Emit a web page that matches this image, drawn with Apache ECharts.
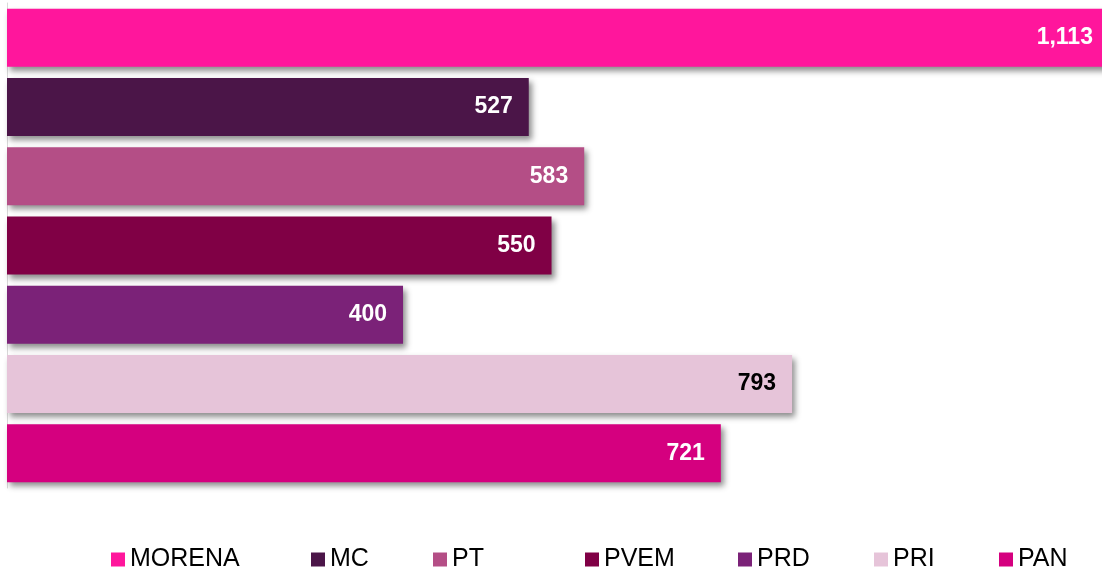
<!DOCTYPE html>
<html>
<head>
<meta charset="utf-8">
<script src="https://cdn.jsdelivr.net/npm/echarts@6/dist/echarts.min.js"></script>
<style>
html, body { margin: 0; padding: 0; background: #fff; }
#chart { width: 1102px; height: 569px; }
</style>
</head>
<body>
<div id="chart"></div>
<script>
// partidos, de arriba hacia abajo
var partidos = ['MORENA', 'MC', 'PT', 'PVEM', 'PRD', 'PRI', 'PAN'];
var valores = [1113, 527, 583, 550, 400, 793, 721];
var colores = ['#FF169C', '#4B1548', '#B44E86', '#800045', '#7B2278', '#E6C4D9', '#D5007F'];
var colorEtiqueta = ['#fff', '#fff', '#fff', '#fff', '#fff', '#000', '#fff'];
// posicion izquierda de cada elemento de la leyenda
var leyendaX = [106, 306, 428, 580, 733, 869, 994];

var dom = document.getElementById('chart');
var myChart = echarts.init(dom);

var series = [];
var legends = [];
for (var i = 0; i < partidos.length; i++) {
	var d = [];
	for (var j = 0; j < partidos.length; j++) {
		d.push(j == i ? valores[i] : '-');
	}
	series.push({
		name: partidos[i],
		type: 'bar',
		data: d,
		barWidth: 58,
		barGap: '-100%',
		clip: false,
		itemStyle: {
			color: colores[i],
			shadowColor: 'rgba(0,0,0,0.45)',
			shadowBlur: 6,
			shadowOffsetX: 3,
			shadowOffsetY: 4
		},
		label: {
			show: true,
			position: 'insideRight',
			distance: 16,
			color: colorEtiqueta[i],
			fontFamily: 'Liberation Sans',
			fontWeight: 'bold',
			fontSize: 23,
			formatter: function (p) {
				return p.value.toLocaleString('en-US');
			}
		}
	});
	legends.push({
		data: [partidos[i]],
		left: leyendaX[i],
		top: 542,
		icon: 'rect',
		itemWidth: 14,
		itemHeight: 14,
		itemGap: 6,
		textStyle: {
			fontFamily: 'Liberation Sans',
			fontSize: 25,
			color: '#000',
			padding: [0, 0, 0, 0]
		},
		selectedMode: false
	});
}

var option = {
	animation: false,
	backgroundColor: '#fff',
	grid: {
		left: 7,
		top: 3,
		height: 485,
		right: 0
	},
	legend: legends,
	xAxis: {
		type: 'value',
		min: 0,
		max: 1106,
		show: false
	},
	yAxis: {
		type: 'category',
		data: partidos,
		inverse: true,
		axisLine: { show: true, lineStyle: { color: '#d9d9d9', width: 1 } },
		axisTick: { show: false },
		axisLabel: { show: false }
	},
	series: series
};

myChart.setOption(option);
</script>
</body>
</html>
